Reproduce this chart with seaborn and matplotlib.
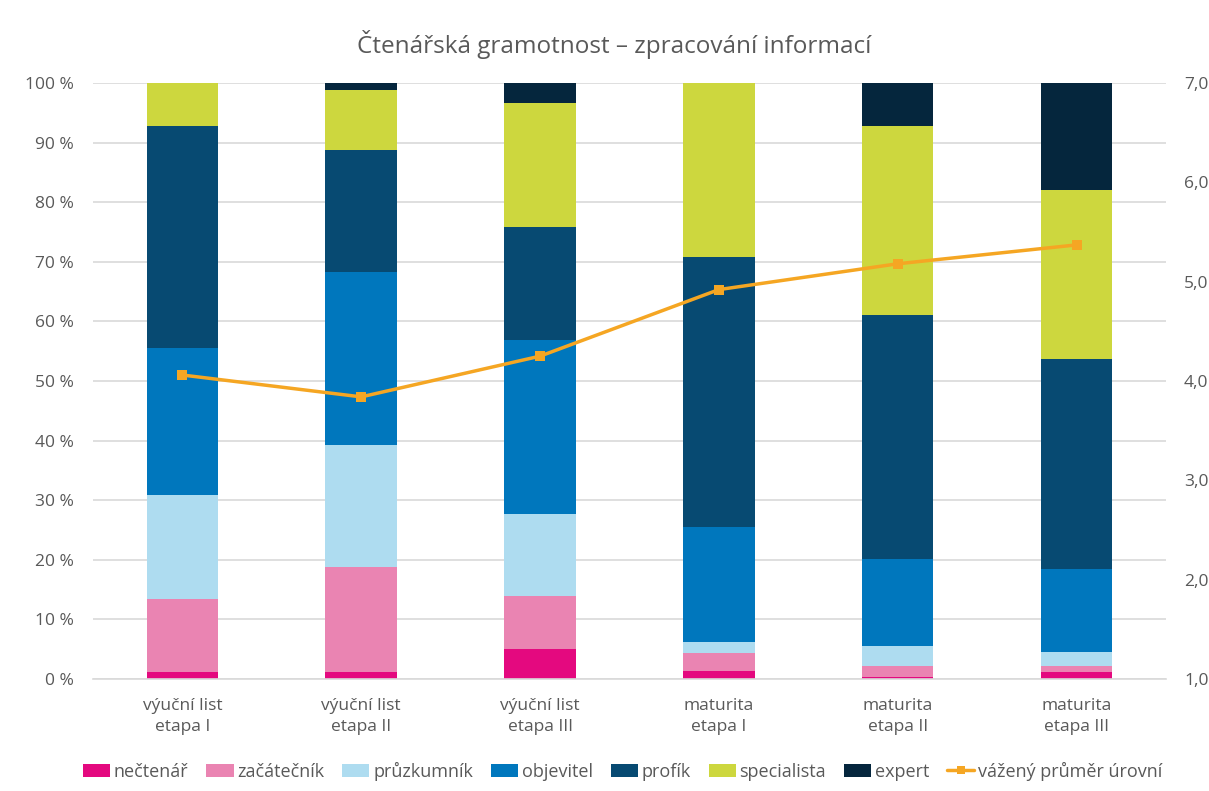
import matplotlib

matplotlib.use("Agg")
import matplotlib.pyplot as plt
import numpy as np
import seaborn as sns
from matplotlib.lines import Line2D
from matplotlib.patches import Patch

# data (share of pupils per level, %)
categories = [
    "výuční list\netapa I",
    "výuční list\netapa II",
    "výuční list\netapa III",
    "maturita\netapa I",
    "maturita\netapa II",
    "maturita\netapa III",
]
levels = ["nečtenář", "začátečník", "průzkumník", "objevitel", "profík", "specialista", "expert"]
necetnar = [1.1, 1.1, 5.1, 1.3, 0.3, 1.1]
zacatecnik = [12.3, 17.7, 8.8, 3.0, 1.9, 1.1]
pruzkumnik = [17.4, 20.5, 13.7, 1.9, 3.3, 2.3]
objevitel = [24.8, 29.0, 29.3, 19.3, 14.6, 14.0]
profik = [37.1, 20.4, 18.9, 45.3, 40.9, 35.2]
specialista = [7.3, 10.1, 20.8, 29.2, 31.7, 28.3]
expert = [0.0, 1.2, 3.4, 0.0, 7.3, 18.0]
weighted_avg = [4.06, 3.84, 4.25, 4.92, 5.18, 5.37]
line_label = "vážený průměr úrovní"

colors = ["#E4097F", "#EA84B2", "#AEDCF0", "#0077BD", "#074A72", "#CDD73E", "#05263D"]
line_color = "#F5A623"
text_color = "#595959"
grid_color = "#D9D9D9"

sns.set_theme(style="white")
plt.rcParams["font.family"] = ["Open Sans", "DejaVu Sans"]

fig = plt.figure(figsize=(12.09, 7.91), dpi=100)
ax = fig.add_axes([0.0769, 0.1416, 0.8875, 0.7535])

series = [necetnar, zacatecnik, pruzkumnik, objevitel, profik, specialista, expert]
cum = np.cumsum(np.array(series), axis=0)

# stacked bars: draw the cumulative totals from the top layer down
for i in range(len(levels) - 1, -1, -1):
    sns.barplot(
        x=categories,
        y=cum[i],
        color=colors[i],
        width=0.4,
        saturation=1,
        errorbar=None,
        linewidth=0,
        ax=ax,
        zorder=2,
    )

ax.set_ylim(0, 100)
ax.set_xlim(-0.5, len(categories) - 0.5)
ax.set_yticks(np.arange(0, 101, 10))
ax.set_yticklabels([f"{v} %" for v in range(0, 101, 10)])
ax.yaxis.grid(True, color=grid_color, linewidth=1.2, zorder=0)
ax.set_axisbelow(True)
for side in ["top", "right", "left"]:
    ax.spines[side].set_visible(False)
ax.spines["bottom"].set_color(grid_color)
ax.spines["bottom"].set_linewidth(1.2)
ax.tick_params(axis="y", colors=text_color, labelsize=12.5, length=0, pad=14)
ax.tick_params(axis="x", colors=text_color, labelsize=12.5, length=0, pad=14)
for lbl in ax.get_xticklabels():
    lbl.set_linespacing(1.35)
ax.set_xlabel("")
ax.set_ylabel("")

ax2 = ax.twinx()
sns.lineplot(
    x=np.arange(len(categories)),
    y=weighted_avg,
    color=line_color,
    linewidth=2.5,
    marker="s",
    markersize=7,
    markeredgewidth=0,
    ax=ax2,
)
ax2.set_ylim(1, 7)
ax2.set_yticks(np.arange(1, 8))
ax2.set_yticklabels([f"{v},0" for v in range(1, 8)])
ax2.tick_params(axis="y", colors=text_color, labelsize=12.5, length=0, pad=13)
ax2.grid(False)
for side in ["top", "right", "left", "bottom"]:
    ax2.spines[side].set_visible(False)
ax2.set_xlim(-0.5, len(categories) - 0.5)

fig.text(
    0.508, 0.944, "Čtenářská gramotnost – zpracování informací",
    ha="center", va="center", fontsize=17.5, color=text_color,
)

handles = [Patch(facecolor=c, edgecolor="none") for c in colors]
handles.append(Line2D([0], [0], color=line_color, linewidth=2.5, marker="s",
                      markersize=6, markeredgewidth=0))
fig.legend(
    handles,
    levels + [line_label],
    loc="center",
    bbox_to_anchor=(0.515, 0.025),
    ncol=8,
    frameon=False,
    fontsize=13,
    labelcolor=text_color,
    handlelength=1.5,
    handleheight=0.8,
    handletextpad=0.2,
    columnspacing=1.0,
)

fig.savefig("out.png", dpi=100)
